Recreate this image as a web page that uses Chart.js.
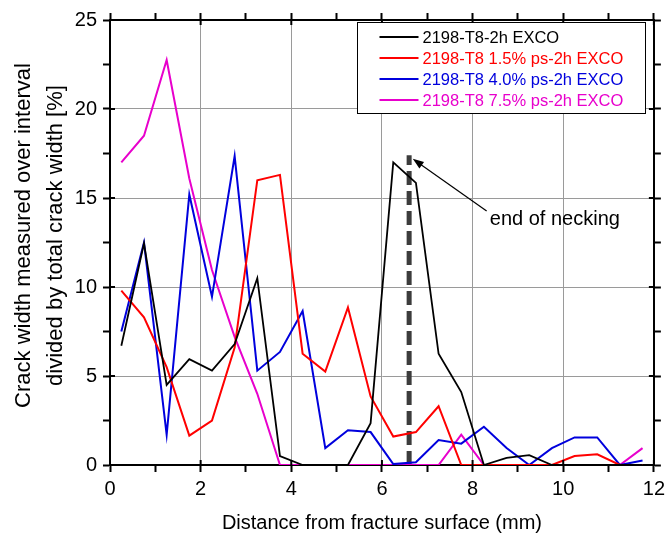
<!DOCTYPE html>
<html>
<head>
<meta charset="utf-8">
<script src="https://cdn.jsdelivr.net/npm/chart.js@4.4.0/dist/chart.umd.min.js"></script>
<style>
  html, body { margin: 0; padding: 0; background: #fff; }
  #wrap { width: 670px; height: 536px; }
</style>
</head>
<body>
<div id="wrap"><canvas id="crackChart" width="670" height="536"></canvas></div>
<script>
// interval centres (mm)
const xs = [0.25, 0.75, 1.25, 1.75, 2.25, 2.75, 3.25, 3.75, 4.25, 4.75, 5.25, 5.75,
            6.25, 6.75, 7.25, 7.75, 8.25, 8.75, 9.25, 9.75, 10.25, 10.75, 11.25, 11.75];

const t8 =     [6.7, 12.45, 4.5, 5.95, 5.3, 6.8, 10.5, 0.5, 0, 0, 0, 2.35,
                17.0, 15.85, 6.25, 4.1, 0, 0.4, 0.55, 0, 0, 0, 0, 0];
const ps15 =   [9.8, 8.3, 5.5, 1.65, 2.5, 6.6, 16.0, 16.3, 6.25, 5.25, 8.85, 3.85,
                1.6, 1.85, 3.3, 0, 0, 0, 0, 0, 0.5, 0.6, 0, 0];
const ps40 =   [7.5, 12.5, 1.7, 15.2, 9.45, 17.35, 5.3, 6.35, 8.65, 0.95, 1.95, 1.85,
                0.05, 0.15, 1.4, 1.2, 2.15, 0.95, 0, 0.95, 1.55, 1.55, 0, 0.25];
const ps75 =   [17.0, 18.5, 22.75, 16.1, 10.95, 7.2, 4.0, 0, 0, 0, 0, 0,
                0, 0, 0, 1.7, 0, 0, 0, 0, 0, 0, 0, 0.95];

const seriesLabels = ['2198-T8-2h EXCO', '2198-T8 1.5% ps-2h EXCO', '2198-T8 4.0% ps-2h EXCO', '2198-T8 7.5% ps-2h EXCO'];
const seriesColors = ['#000000', '#ff0000', '#0000dd', '#e800cc'];

const yTitle = ['Crack width measured over interval', 'divided by total crack width [%]'];

// end of necking marker
const neckX = [6.6, 6.6];
const neckY = [0, 17.4];

const toPts = vals => vals.map((v, i) => ({x: xs[i], y: v}));

Chart.defaults.font.family = "Arial, 'Liberation Sans', sans-serif";
Chart.defaults.color = '#000';

const datasets = [t8, ps15, ps40, ps75].map((vals, i) => ({
  label: seriesLabels[i],
  data: toPts(vals),
  borderColor: seriesColors[i],
  borderWidth: i === 0 ? 1.8 : 2,
  pointRadius: 0,
  tension: 0,
  fill: false,
  inLegend: true
}));

datasets.push({
  label: 'necking',
  data: neckX.map((x, i) => ({x: x, y: neckY[i]})),
  borderColor: '#3c3c3c',
  borderWidth: 5,
  borderDash: [14, 6],
  pointRadius: 0,
  fill: false
});

// y title, inner tick stubs, arrow, note and legend box
const extras = {
  id: 'extras',
  afterDraw(chart) {
    const ctx = chart.ctx;
    const sx = chart.scales.x, sy = chart.scales.y;
    const area = chart.chartArea;
    ctx.save();

    // y axis title (sits a bit above the plot centre in the original)
    ctx.font = "22px Arial, 'Liberation Sans', sans-serif";
    ctx.fillStyle = '#000';
    ctx.textAlign = 'center';
    ctx.textBaseline = 'middle';
    yTitle.forEach((line, i) => {
      ctx.save();
      ctx.translate(24 + i * 32, (area.top + area.bottom) / 2 - 7);
      ctx.rotate(-Math.PI / 2);
      ctx.fillText(line, 0, 0);
      ctx.restore();
    });

    // major ticks cross the axis lines
    ctx.strokeStyle = '#000';
    ctx.lineWidth = 2;
    ctx.beginPath();
    [0, 2, 4, 6, 8, 10, 12].forEach(v => {
      const px = sx.getPixelForValue(v);
      ctx.moveTo(px, area.bottom); ctx.lineTo(px, area.bottom - 5);
      ctx.moveTo(px, area.top); ctx.lineTo(px, area.top + 5);
    });
    [0, 5, 10, 15, 20, 25].forEach(v => {
      const py = sy.getPixelForValue(v);
      ctx.moveTo(area.left, py); ctx.lineTo(area.left + 5, py);
      ctx.moveTo(area.right, py); ctx.lineTo(area.right - 5, py);
    });
    ctx.stroke();

    const tx = sx.getPixelForValue(8.31), ty = sy.getPixelForValue(14.27);
    const hx = sx.getPixelForValue(6.68), hy = sy.getPixelForValue(17.2);
    const ang = Math.atan2(hy - ty, hx - tx);
    ctx.lineWidth = 1.2;
    ctx.beginPath();
    ctx.moveTo(tx, ty);
    ctx.lineTo(hx - 8 * Math.cos(ang), hy - 8 * Math.sin(ang));
    ctx.stroke();
    ctx.fillStyle = '#000';
    ctx.beginPath();
    ctx.moveTo(hx, hy);
    ctx.lineTo(hx - 11 * Math.cos(ang) + 4 * Math.sin(ang), hy - 11 * Math.sin(ang) - 4 * Math.cos(ang));
    ctx.lineTo(hx - 11 * Math.cos(ang) - 4 * Math.sin(ang), hy - 11 * Math.sin(ang) + 4 * Math.cos(ang));
    ctx.closePath();
    ctx.fill();

    ctx.font = "20px Arial, 'Liberation Sans', sans-serif";
    ctx.textBaseline = 'alphabetic';
    ctx.textAlign = 'left';
    ctx.fillText('end of necking', sx.getPixelForValue(8.38), sy.getPixelForValue(13.5));

    // legend
    const bx = area.left + 247.5, by = area.top + 2.5, bw = 288, bh = 91;
    ctx.fillStyle = '#fff';
    ctx.fillRect(bx, by, bw, bh);
    ctx.strokeStyle = '#000';
    ctx.lineWidth = 1;
    ctx.strokeRect(bx, by, bw, bh);
    ctx.font = "16.5px Arial, 'Liberation Sans', sans-serif";
    ctx.textBaseline = 'middle';
    chart.data.datasets.filter(d => d.inLegend).forEach((d, i) => {
      const ry = by + 14.5 + i * 21;
      ctx.strokeStyle = d.borderColor;
      ctx.lineWidth = 2;
      ctx.beginPath();
      ctx.moveTo(bx + 22, ry);
      ctx.lineTo(bx + 61, ry);
      ctx.stroke();
      ctx.fillStyle = d.borderColor;
      ctx.fillText(d.label, bx + 65, ry + 1);
    });
    ctx.restore();
  }
};

const isMajor = (v, step) => Math.abs(v / step - Math.round(v / step)) < 1e-6;

new Chart(document.getElementById('crackChart'), {
  type: 'line',
  data: { datasets },
  options: {
    responsive: false,
    animation: false,
    layout: { padding: 0 },
    plugins: { legend: { display: false }, tooltip: { enabled: false } },
    scales: {
      x: {
        type: 'linear', position: 'bottom', min: 0, max: 12,
        ticks: { stepSize: 1, autoSkip: false, maxRotation: 0, padding: 5,
                 font: { size: 20 }, color: '#000',
                 callback: v => isMajor(v, 2) ? v : '' },
        grid: { color: c => (c.tick && isMajor(c.tick.value, 2)) ? '#9a9a9a' : 'rgba(0,0,0,0)',
                tickColor: '#000', tickLength: 7, tickWidth: 2, lineWidth: 1 },
        border: { color: '#000', width: 2 },
        title: { display: true, text: 'Distance from fracture surface (mm)',
                 font: { size: 20 }, color: '#000', padding: { top: 0, bottom: 1 } },
        afterFit: s => { s.height = 71; }
      },
      x2: {
        type: 'linear', position: 'top', min: 0, max: 12,
        ticks: { stepSize: 1, display: false },
        grid: { drawOnChartArea: false, tickColor: '#000', tickLength: 7, tickWidth: 2 },
        border: { color: '#000', width: 2 },
        afterFit: s => { s.height = 20; }
      },
      y: {
        type: 'linear', position: 'left', min: 0, max: 25,
        ticks: { stepSize: 2.5, autoSkip: false, padding: 6,
                 font: { size: 20 }, color: '#000',
                 callback: v => isMajor(v, 5) ? v : '' },
        grid: { color: c => (c.tick && isMajor(c.tick.value, 5)) ? '#9a9a9a' : 'rgba(0,0,0,0)',
                tickColor: '#000', tickLength: 7, tickWidth: 2, lineWidth: 1 },
        border: { color: '#000', width: 2 },
        afterFit: s => { s.width = 110; }
      },
      y2: {
        type: 'linear', position: 'right', min: 0, max: 25,
        ticks: { stepSize: 2.5, display: false },
        grid: { drawOnChartArea: false, tickColor: '#000', tickLength: 7, tickWidth: 2 },
        border: { color: '#000', width: 2 },
        afterFit: s => { s.width = 13; }
      }
    }
  },
  plugins: [extras]
});
</script>
</body>
</html>
